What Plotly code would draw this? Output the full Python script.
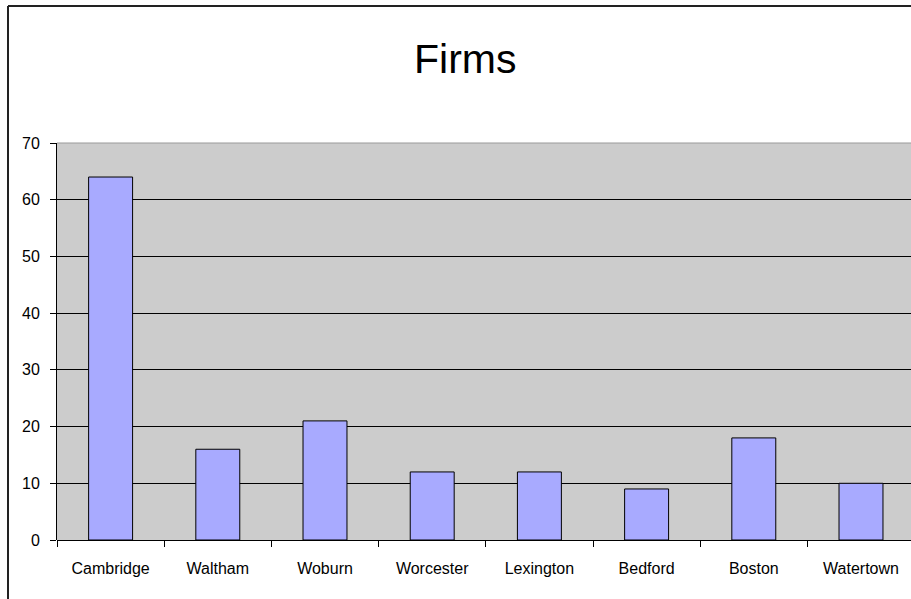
import plotly.graph_objects as go

categories = ["Cambridge", "Waltham", "Woburn", "Worcester", "Lexington", "Bedford", "Boston", "Watertown"]
firms = [64, 16, 21, 12, 12, 9, 18, 10]
y_ticks = [0, 10, 20, 30, 40, 50, 60, 70]
title_text = "Firms"

W, H = 911, 599
ML, MR, MT, MB = 57, 0, 143, 59
PW = W - ML - MR
PH = H - MT - MB
cat_w = 107.2

def px_to_paper_x(px):
    return (px - ML) / PW

def px_to_paper_y(py):
    return (H - MB - py) / PH

fig = go.Figure()
fig.add_trace(go.Bar(
    x=categories,
    y=firms,
    width=0.41,
    marker=dict(color="#A8AAFF", line=dict(color="#000000", width=1)),
    hoverinfo="skip",
))

font_family = "Liberation Sans, Arial, sans-serif"

fig.update_layout(
    width=W, height=H,
    margin=dict(l=ML, r=MR, t=MT, b=MB, pad=0),
    paper_bgcolor="#FFFFFF",
    plot_bgcolor="#CCCCCC",
    showlegend=False,
    font=dict(family=font_family, size=16, color="#000000"),
    xaxis=dict(
        type="category",
        range=[-0.5, -0.5 + PW / cat_w],
        tickson="boundaries",
        ticks="outside", ticklen=6, tickcolor="#000000", tickwidth=1,
        showgrid=False, showline=False, zeroline=False,
        tickfont=dict(size=16, family=font_family, color="#000000"),
        ticklabelstandoff=17,
        fixedrange=True,
    ),
    yaxis=dict(
        range=[0, 70],
        tickvals=y_ticks,
        ticktext=[str(v) for v in y_ticks],
        ticks="outside", ticklen=6, tickcolor="#000000", tickwidth=1,
        showgrid=True, gridcolor="#000000", gridwidth=1,
        zeroline=True, zerolinecolor="#000000", zerolinewidth=1,
        showline=True, linecolor="#000000", linewidth=1,
        tickfont=dict(size=16, family=font_family, color="#000000"),
        ticklabelstandoff=7,
        fixedrange=True,
    ),
    annotations=[dict(
        text=title_text, xref="paper", yref="paper",
        x=px_to_paper_x(465), y=px_to_paper_y(59),
        xanchor="center", yanchor="middle", showarrow=False,
        font=dict(size=41, family=font_family, color="#000000"),
    )],
    shapes=[
        dict(type="line", xref="paper", yref="paper",
             x0=px_to_paper_x(8), x1=px_to_paper_x(8),
             y0=px_to_paper_y(6), y1=px_to_paper_y(640),
             line=dict(color="#222222", width=2)),
        dict(type="line", xref="paper", yref="paper",
             x0=px_to_paper_x(8), x1=px_to_paper_x(960),
             y0=px_to_paper_y(6), y1=px_to_paper_y(6),
             line=dict(color="#222222", width=2)),
        dict(type="line", xref="paper", yref="paper",
             x0=0, x1=1, y0=1, y1=1,
             line=dict(color="#999999", width=1)),
    ],
)

fig.write_html(
    "out.html",
    config={"displayModeBar": False},
    post_script="document.body.style.margin='0';document.body.style.overflow='hidden';",
)
